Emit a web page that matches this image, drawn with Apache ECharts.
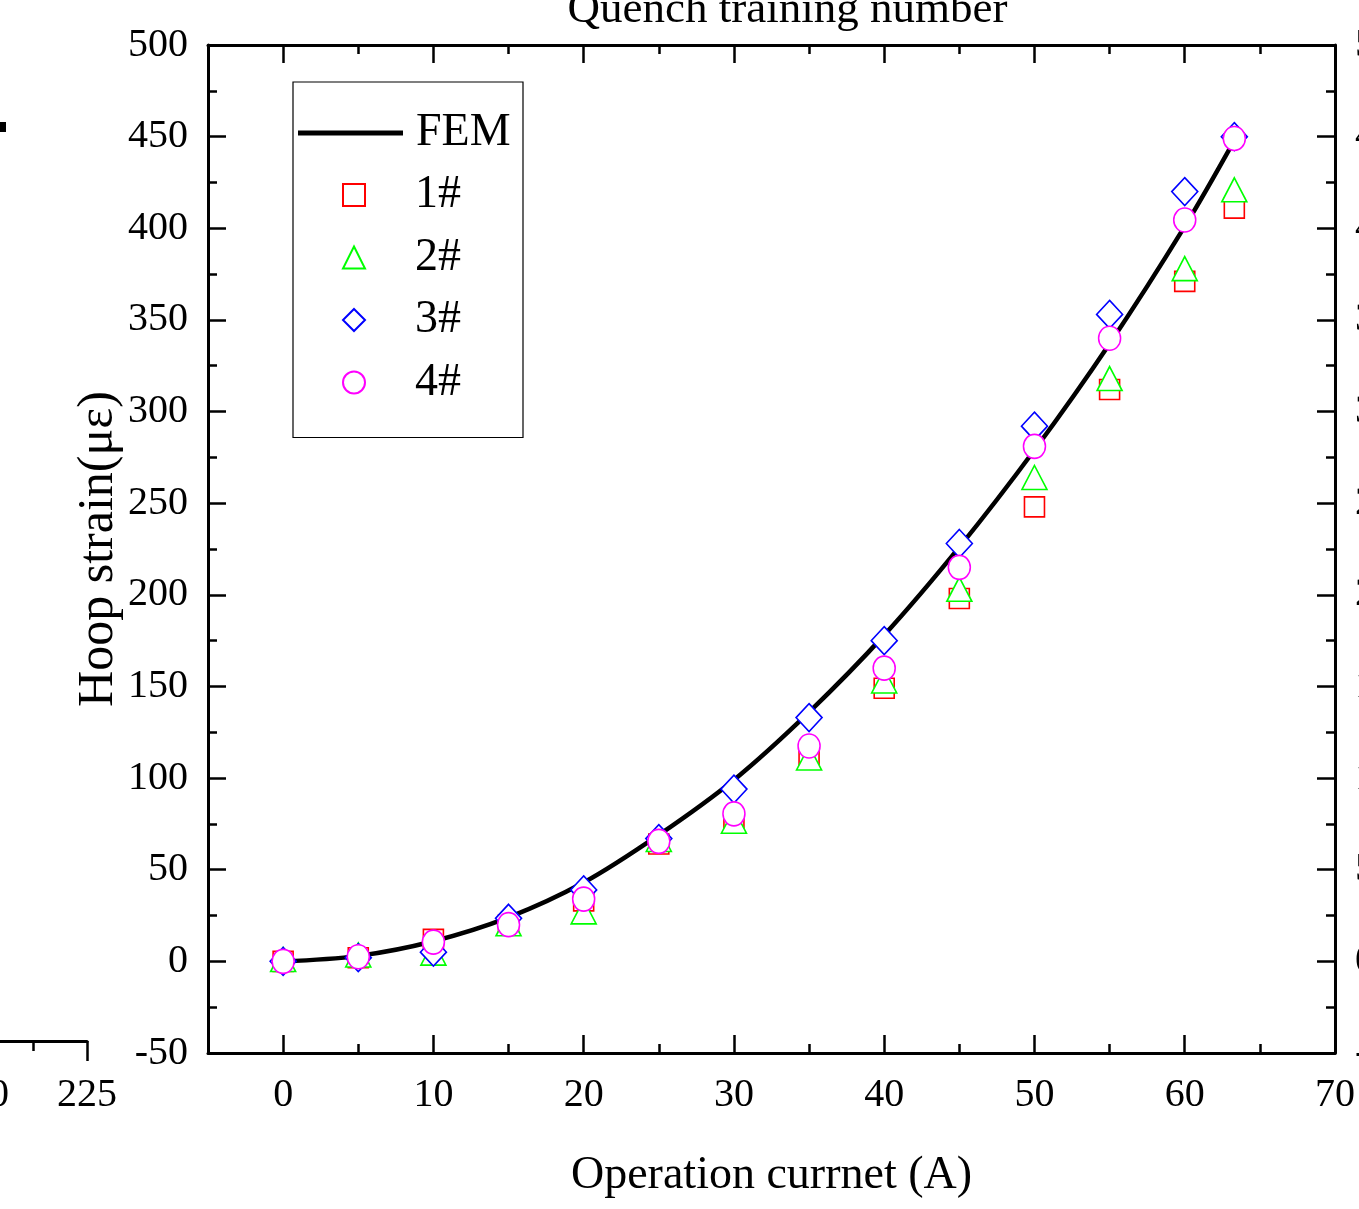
<!DOCTYPE html>
<html>
<head>
<meta charset="utf-8">
<title>Hoop strain vs operation current</title>
<script src="https://cdn.jsdelivr.net/npm/echarts@6/dist/echarts.min.js"></script>
<style>
  html, body { margin: 0; padding: 0; background: #fff; }
  #chart { width: 1359px; height: 1209px; }
</style>
</head>
<body>
<div id="chart"></div>
<script>
// Operation current (A) at each measurement step
const currents = [0, 5, 10, 15, 20, 25, 30, 35, 40, 45, 50, 55, 60, 63.3];
// Finite-element prediction of hoop strain (με)
const femStrain = [0, 3, 11, 24, 43, 69, 99, 136, 178, 226, 279, 337, 401, 448];
// Measured hoop strain of gauges 1# - 4# (με)
const gauge1 = [0, 2, 12, 20, 33, 64, 77, 112, 149, 198, 248, 312, 371, 411];
const gauge2 = [1, 3.5, 4.5, 20.5, 27, 66.5, 76.5, 111, 153, 203, 264, 318, 378, 421];
const gauge3 = [0, 2, 5, 23.5, 39, 67, 94, 133, 175, 228, 292, 353, 420, 450];
const gauge4 = [0, 2.5, 10.5, 20, 34, 65.5, 80.5, 117.5, 160, 215, 281, 340, 404.5, 449];

const seriesNames = ['FEM', '1#', '2#', '3#', '4#'];
const xMajorTicks = [0, 10, 20, 30, 40, 50, 60, 70];
const xMinorTicks = [5, 15, 25, 35, 45, 55, 65];
const sidePanelLabels = [200, 225];

const FONT = 'Liberation Serif';
const BLACK = '#000';

const pairs = (ys) => currents.map((x, i) => [x, ys[i]]);

const chart = echarts.init(document.getElementById('chart'), null, { renderer: 'canvas' });

const tickStyle = (len) => ({ show: true, inside: true, length: len, lineStyle: { color: BLACK, width: 2.5 } });

const option = {
  animation: false,
  backgroundColor: '#fff',
  textStyle: { fontFamily: FONT, color: BLACK },
  grid: [
    { left: 208, right: 24, top: 45, bottom: 156, containLabel: false, outerBoundsMode: 'none' },
    // neighbouring panel, only the end of its bottom axis is in view
    { left: -885, right: 1272, top: 900, bottom: 168, containLabel: false, outerBoundsMode: 'none' }
  ],
  xAxis: [
    {
      type: 'value', gridIndex: 0, position: 'bottom', min: -5, max: 70, interval: 5,
      name: 'Operation currnet (A)', nameLocation: 'middle', nameGap: 100,
      nameTextStyle: { fontFamily: FONT, fontSize: 46, color: BLACK },
      axisLine: { show: true, onZero: false, lineStyle: { color: BLACK, width: 3 } },
      axisTick: Object.assign(tickStyle(18), { customValues: xMajorTicks }),
      axisLabel: { show: true, customValues: xMajorTicks, margin: 22, fontFamily: FONT, fontSize: 40, color: BLACK },
      splitLine: { show: false }
    },
    {
      type: 'value', gridIndex: 0, position: 'bottom', min: -5, max: 70, interval: 5,
      axisLine: { show: false, onZero: false },
      axisTick: Object.assign(tickStyle(9), { customValues: xMinorTicks }),
      axisLabel: { show: false },
      splitLine: { show: false }
    },
    {
      type: 'value', gridIndex: 0, position: 'top', min: -5, max: 70, interval: 5,
      name: 'Quench training number', nameLocation: 'middle', nameGap: 12,
      nameTextStyle: { fontFamily: FONT, fontSize: 45, color: BLACK, padding: [0, 0, 0, 32] },
      axisLine: { show: true, onZero: false, lineStyle: { color: BLACK, width: 3 } },
      axisTick: Object.assign(tickStyle(18), { customValues: xMajorTicks }),
      axisLabel: { show: false },
      splitLine: { show: false }
    },
    {
      type: 'value', gridIndex: 0, position: 'top', min: -5, max: 70, interval: 5,
      axisLine: { show: false, onZero: false },
      axisTick: Object.assign(tickStyle(9), { customValues: xMinorTicks }),
      axisLabel: { show: false },
      splitLine: { show: false }
    },
    {
      type: 'value', gridIndex: 1, position: 'bottom', min: 0, max: 225, interval: 25,
      axisLine: { show: true, onZero: false, lineStyle: { color: BLACK, width: 3 } },
      axisTick: { show: true, inside: false, length: 20, customValues: sidePanelLabels, lineStyle: { color: BLACK, width: 2.5 } },
      minorTick: { show: true, splitNumber: 2, length: 10, lineStyle: { color: BLACK, width: 2.5 } },
      axisLabel: { show: true, customValues: sidePanelLabels, margin: 34, fontFamily: FONT, fontSize: 40, color: BLACK },
      splitLine: { show: false }
    }
  ],
  yAxis: [
    {
      type: 'value', gridIndex: 0, position: 'left', min: -50, max: 500, interval: 50,
      name: 'Hoop strain(με)', nameLocation: 'middle', nameGap: 84, nameMoveOverlap: false,
      nameTextStyle: { fontFamily: FONT, fontSize: 50, color: BLACK },
      axisLine: { show: true, onZero: false, lineStyle: { color: BLACK, width: 3 } },
      axisTick: tickStyle(18),
      minorTick: { show: true, splitNumber: 2, length: 9, lineStyle: { color: BLACK, width: 2.5 } },
      axisLabel: { show: true, margin: 20, fontFamily: FONT, fontSize: 40, color: BLACK },
      splitLine: { show: false }, minorSplitLine: { show: false }
    },
    {
      type: 'value', gridIndex: 0, position: 'right', min: -50, max: 500, interval: 50,
      axisLine: { show: true, onZero: false, lineStyle: { color: BLACK, width: 3 } },
      axisTick: tickStyle(18),
      minorTick: { show: true, splitNumber: 2, length: 9, lineStyle: { color: BLACK, width: 2.5 } },
      axisLabel: { show: true, margin: 20, fontFamily: FONT, fontSize: 40, color: BLACK },
      splitLine: { show: false }, minorSplitLine: { show: false }
    },
    {
      type: 'value', gridIndex: 1, show: false, min: 0, max: 1
    }
  ],
  legend: [
    // framed box holding the gauge markers
    {
      orient: 'vertical',
      left: 293, top: 82,
      padding: [90, 62, 32, 49],
      itemWidth: 22, itemHeight: 22, itemGap: 16.5,
      borderColor: BLACK, borderWidth: 1.2,
      backgroundColor: '#fff',
      textStyle: { fontFamily: FONT, fontSize: 46, lineHeight: 46, color: BLACK, padding: [0, 0, 0, 45] },
      data: seriesNames.slice(1),
      z: 10
    },
    // FEM line entry at the top of the same box
    {
      orient: 'vertical',
      left: 298, top: 110,
      padding: 0,
      itemWidth: 105, itemHeight: 5,
      textStyle: { fontFamily: FONT, fontSize: 46, lineHeight: 46, color: BLACK, padding: [0, 0, 0, 8] },
      data: [{ name: seriesNames[0], icon: 'rect', itemStyle: { color: BLACK } }],
      z: 11
    }
  ],
  graphic: [
    { type: 'rect', left: 0, top: 122, shape: { width: 6, height: 10 }, style: { fill: BLACK } }
  ],
  series: [
    {
      name: seriesNames[0], type: 'line', xAxisIndex: 0, yAxisIndex: 0,
      data: pairs(femStrain), smooth: 0.35, symbol: 'none', showSymbol: false,
      lineStyle: { color: BLACK, width: 4.5 }, itemStyle: { color: BLACK }, z: 2
    },
    {
      name: seriesNames[1], type: 'scatter', xAxisIndex: 0, yAxisIndex: 0,
      data: pairs(gauge1), symbol: 'rect', symbolSize: 20,
      itemStyle: { color: '#fff', borderColor: '#ff0000', borderWidth: 1.6, opacity: 1 }, z: 3
    },
    {
      name: seriesNames[2], type: 'scatter', xAxisIndex: 0, yAxisIndex: 0,
      data: pairs(gauge2), symbol: 'triangle', symbolSize: [25, 24],
      itemStyle: { color: '#fff', borderColor: '#00ff00', borderWidth: 1.6, opacity: 1 }, z: 4
    },
    {
      name: seriesNames[3], type: 'scatter', xAxisIndex: 0, yAxisIndex: 0,
      data: pairs(gauge3), symbol: 'diamond', symbolSize: [26, 28],
      itemStyle: { color: '#fff', borderColor: '#0000ff', borderWidth: 1.6, opacity: 1 }, z: 5
    },
    {
      name: seriesNames[4], type: 'scatter', xAxisIndex: 0, yAxisIndex: 0,
      data: pairs(gauge4), symbol: 'circle', symbolSize: [22, 24],
      itemStyle: { color: '#fff', borderColor: '#ff00ff', borderWidth: 1.6, opacity: 1 }, z: 6
    }
  ]
};

chart.setOption(option);
</script>
</body>
</html>
